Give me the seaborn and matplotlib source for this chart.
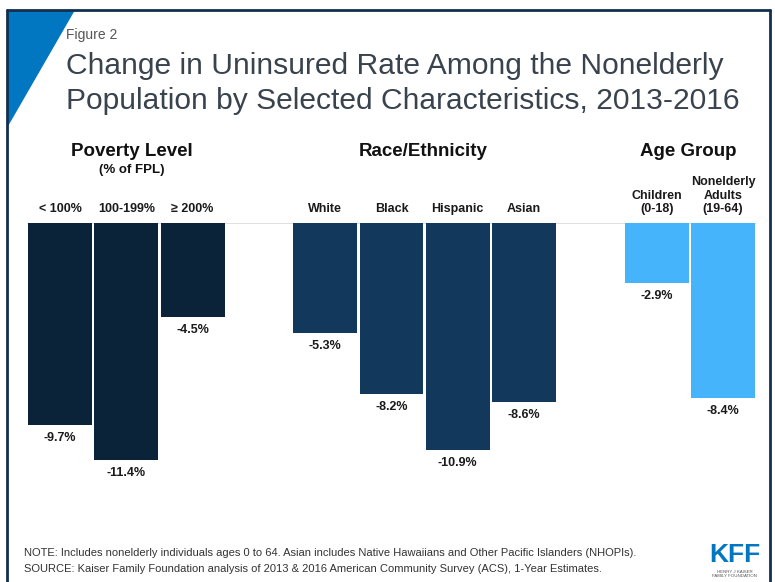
import matplotlib
matplotlib.use("Agg")
import matplotlib.pyplot as plt
from matplotlib.patches import Polygon
from matplotlib.lines import Line2D
import seaborn as sns
import pandas as pd

sns.set_theme(style="white")
plt.rcParams["font.family"] = ["Liberation Sans", "DejaVu Sans"]

# Data
poverty_labels = ["< 100%", "100-199%", "\u2265 200%"]
poverty_change = [-9.7, -11.4, -4.5]
race_labels = ["White", "Black", "Hispanic", "Asian"]
race_change = [-5.3, -8.2, -10.9, -8.6]
age_labels = ["Children\n(0-18)", "Nonelderly\nAdults\n(19-64)"]
age_change = [-2.9, -8.4]

group_names = ["Poverty Level", "Race/Ethnicity", "Age Group"]
group_colors = {"Poverty Level": "#0b2339", "Race/Ethnicity": "#12395c", "Age Group": "#45b4fb"}

df = pd.DataFrame({
    "category": poverty_labels + race_labels + age_labels,
    "change": poverty_change + race_change + age_change,
    "group": ["Poverty Level"] * 3 + ["Race/Ethnicity"] * 4 + ["Age Group"] * 2,
})

# blank slots separate the three groups
order = poverty_labels + ["gap1"] + race_labels + ["gap2"] + age_labels

W, H = 775, 582
fig = plt.figure(figsize=(W / 100, H / 100), dpi=100)
fig.patch.set_facecolor("white")

def fx(px):
    return px / W

def fy(py):
    return 1 - py / H

# plotting area: zero line at y=223px, 20.8 px per percentage point
ax_left, ax_right = 26.85, 756.15
ax_top, ax_bottom = 223, 483
ax = fig.add_axes([fx(ax_left), fy(ax_bottom), (ax_right - ax_left) / W, (ax_bottom - ax_top) / H])

sns.barplot(data=df, x="category", y="change", hue="group", order=order,
            hue_order=group_names, palette=group_colors, dodge=False,
            width=0.965, ax=ax, legend=False, linewidth=0, saturation=1)

ax.set_xlim(-0.5, len(order) - 0.5)
ax.set_ylim(-12.5, 0)
ax.axis("off")
ax.axhline(0, color="#d9d9d9", lw=1.2, zorder=0)

pos = {c: i for i, c in enumerate(order)}
px_per_pt = 72 / 100
for _, r in df.iterrows():
    x = pos[r["category"]]
    # value label under each bar end
    ax.annotate(f"{r['change']:.1f}%", (x, r["change"]), xytext=(0, -13 * px_per_pt),
                textcoords="offset points", ha="center", va="center",
                fontsize=9, fontweight="bold", color="#1a1a1a")
    # category label above the zero line
    ax.annotate(r["category"], (x, 0), xytext=(0, 8 * px_per_pt),
                textcoords="offset points", ha="center", va="bottom",
                fontsize=9, fontweight="bold", color="#1a1a1a", linespacing=1.15)

# group headers
fig.text(fx(132), fy(151), "Poverty Level", ha="center", va="center",
         fontsize=13.5, fontweight="bold", color="#111111")
fig.text(fx(132), fy(170), "(% of FPL)", ha="center", va="center",
         fontsize=9.5, fontweight="bold", color="#111111")
fig.text(fx(423), fy(151), "Race/Ethnicity", ha="center", va="center",
         fontsize=13.5, fontweight="bold", color="#111111")
fig.text(fx(688), fy(151), "Age Group", ha="center", va="center",
         fontsize=13.5, fontweight="bold", color="#111111")

# frame and corner triangle
frame_color = "#12304d"
fig.add_artist(Line2D([fx(7), fx(7)], [fy(10), 0], color=frame_color, lw=2.0))
fig.add_artist(Line2D([fx(7), fx(770)], [fy(10), fy(10)], color=frame_color, lw=2.0))
fig.add_artist(Line2D([fx(770), fx(770)], [fy(10), 0], color=frame_color, lw=2.0))
fig.add_artist(Polygon([[fx(7), fy(10)], [fx(75), fy(10)], [fx(7), fy(128)]],
                       closed=True, facecolor="#0077c0", edgecolor="none"))

# titles
fig.text(fx(66), fy(35), "Figure 2", ha="left", va="center", fontsize=10, color="#555555")
fig.text(fx(66), fy(66), "Change in Uninsured Rate Among the Nonelderly", ha="left",
         va="center", fontsize=21.6, color="#39434e")
fig.text(fx(66), fy(101), "Population by Selected Characteristics, 2013-2016", ha="left",
         va="center", fontsize=21.6, color="#39434e")

# notes
fig.text(fx(24), fy(553), "NOTE: Includes nonelderly individuals ages 0 to 64. Asian includes Native Hawaiians and Other Pacific Islanders (NHOPIs).",
         ha="left", va="center", fontsize=8, color="#333333")
fig.text(fx(24), fy(569), "SOURCE: Kaiser Family Foundation analysis of 2013 & 2016 American Community Survey (ACS), 1-Year Estimates.",
         ha="left", va="center", fontsize=8, color="#333333")

# logo
fig.text(fx(735), fy(555), "KFF", ha="center", va="center", fontsize=19,
         fontweight="bold", color="#0077c0")
fig.text(fx(735), fy(574), "HENRY J KAISER\nFAMILY FOUNDATION", ha="center", va="center",
         fontsize=3.2, color="#555555", linespacing=1.0)

fig.savefig("out.png", dpi=100, facecolor="white")
